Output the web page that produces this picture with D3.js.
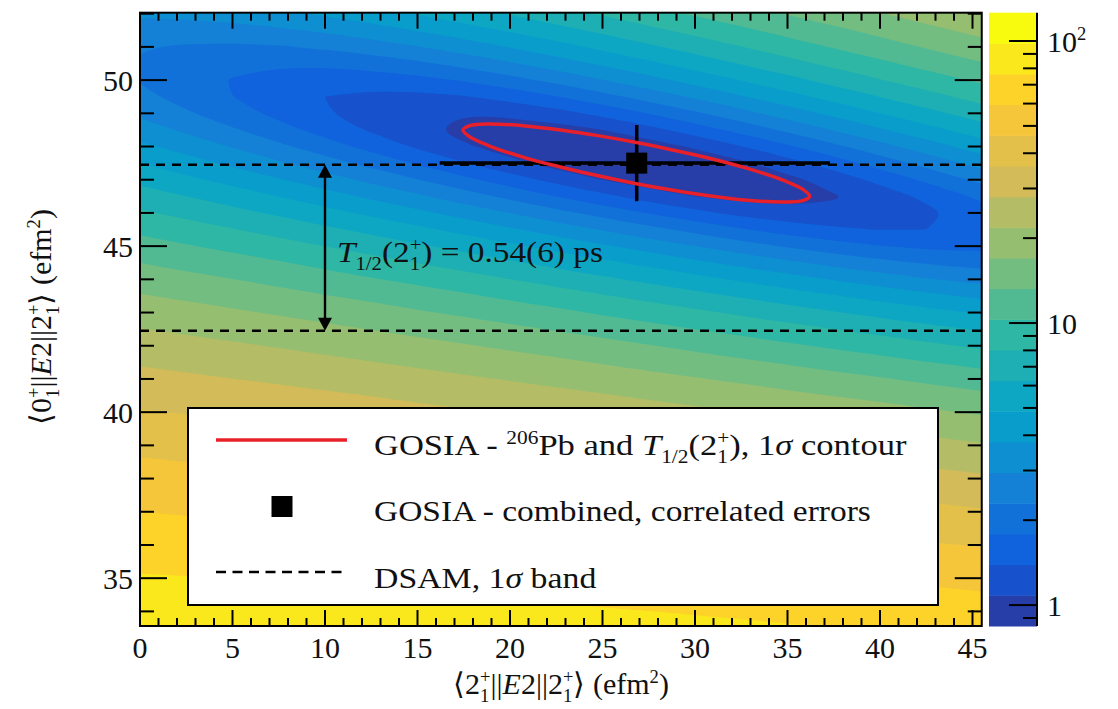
<!DOCTYPE html>
<html><head><meta charset="utf-8">
<script src="https://cdn.jsdelivr.net/npm/d3@7"></script>
<style>
body{margin:0;background:#fff;}
text{font-family:"Liberation Serif","Times New Roman",Tinos,serif;fill:#111;}
</style></head><body>
<svg id="chart" width="1118" height="709"></svg>
<script>
// ---------------- data ----------------
const xDomain = [0, 45.5];
const yDomain = [33.56, 52.03];
const zDomain = [0.843, 126];
const xTicks = [0, 5, 10, 15, 20, 25, 30, 35, 40, 45];
const yTicks = [35, 40, 45, 50];
const zMajor = [1, 10, 100];
const zMinor = [0.9, 2, 3, 4, 5, 6, 7, 8, 9, 20, 30, 40, 50, 60, 70, 80, 90];
const nLevels = 20;
const dsamBand = [42.45, 47.45];
const arrowX = 10;
const gosiaXY = [26.85, 47.5];
const gosiaXErr = [10.65, 10.45];
const gosiaYErr = [1.15, 1.15];
const ellipseX = [17.46,17.83,18.83,20.83,22.83,24.83,26.83,28.83,30.83,32.83,34.83,35.83,36.20,35.83,34.83,32.83,30.83,28.83,26.83,24.83,22.83,20.83,18.83,17.83];
const ellipseY = [48.50,48.63,48.68,48.62,48.49,48.32,48.12,47.89,47.64,47.34,46.97,46.71,46.50,46.37,46.33,46.38,46.51,46.68,46.88,47.11,47.37,47.66,48.03,48.29];
const birdStops = [0, 0.125, 0.25, 0.375, 0.5, 0.625, 0.75, 0.875, 1];
const birdR = [0.2082, 0.0592, 0.0780, 0.0232, 0.1802, 0.5301, 0.8186, 0.9956, 0.9764];
const birdG = [0.1664, 0.3599, 0.5041, 0.6419, 0.7178, 0.7492, 0.7328, 0.7862, 0.9832];
const birdB = [0.5293, 0.8684, 0.8385, 0.7914, 0.6425, 0.4662, 0.3499, 0.1968, 0.0539];

// chi-square surface: columns at gridX, rows at gridY (top row first)
const gridX = [-2.5, 0, 2.5, 5, 7.5, 10, 12.5, 15, 17.5, 20, 22.5, 25, 27.5, 30, 32.5, 35, 37.5, 40, 42.5, 45, 47.5];
const gridY = [53, 52.5, 52, 51.5, 51, 50.5, 50, 49.5, 49, 48.5, 48, 47.5, 47, 46.5, 46, 45.5, 45, 44.5, 44, 43.5, 43,
               42.5, 42, 41.5, 41, 40.5, 40, 39.5, 39, 38.5, 38, 37.5, 37, 36.5, 36, 35.5, 35, 34.5, 34, 33.5, 33];
const chiGrid = [
  [4.23,4.43,4.72,5.11,5.60,6.19,6.89,7.70,8.62,9.66,10.8,12.1,13.5,15.1,16.7,18.6,20.5,22.6,24.9,27.3,29.9],
  [3.57,3.67,3.85,4.13,4.50,4.97,5.55,6.23,7.01,7.91,8.93,10.1,11.3,12.7,14.2,15.9,17.7,19.6,21.7,23.9,26.3],
  [3.06,3.06,3.15,3.32,3.58,3.93,4.39,4.94,5.60,6.36,7.24,8.23,9.34,10.6,11.9,13.4,15.0,16.8,18.7,20.8,23.0],
  [2.71,2.62,2.61,2.68,2.83,3.07,3.41,3.84,4.37,5.00,5.74,6.60,7.56,8.65,9.86,11.2,12.6,14.2,16.0,17.8,19.9],
  [2.52,2.34,2.23,2.20,2.25,2.39,2.61,2.92,3.33,3.84,4.45,5.17,6.00,6.94,7.99,9.17,10.5,11.9,13.5,15.2,17.0],
  [2.49,2.22,2.02,1.90,1.85,1.88,1.99,2.19,2.49,2.87,3.36,3.94,4.64,5.44,6.35,7.38,8.53,9.80,11.2,12.7,14.4],
  [2.60,2.26,1.97,1.76,1.61,1.55,1.56,1.65,1.83,2.10,2.46,2.92,3.48,4.15,4.92,5.80,6.80,7.92,9.16,10.5,12.0],
  [2.88,2.45,2.09,1.79,1.56,1.39,1.31,1.30,1.37,1.52,1.77,2.11,2.54,3.07,3.71,4.45,5.31,6.27,7.36,8.57,9.90],
  [3.31,2.81,2.37,1.99,1.67,1.42,1.24,1.13,1.09,1.14,1.27,1.49,1.80,2.21,2.71,3.32,4.03,4.86,5.79,6.85,8.02],
  [3.89,3.33,2.82,2.36,1.96,1.62,1.35,1.14,1.01,0.953,0.976,1.08,1.28,1.56,1.94,2.41,2.99,3.67,4.46,5.36,6.38],
  [4.64,4.01,3.43,2.90,2.42,2.00,1.64,1.34,1.12,0.960,0.879,0.876,0.956,1.12,1.38,1.72,2.17,2.71,3.36,4.12,4.99],
  [5.53,4.85,4.20,3.60,3.05,2.56,2.12,1.73,1.41,1.16,0.981,0.874,0.844,0.895,1.03,1.26,1.57,1.99,2.50,3.11,3.83],
  [6.58,5.85,5.14,4.48,3.86,3.29,2.77,2.31,1.90,1.56,1.28,1.08,0.940,0.882,0.904,1.01,1.20,1.49,1.87,2.35,2.93],
  [7.79,7.00,6.25,5.52,4.84,4.20,3.61,3.07,2.58,2.15,1.78,1.48,1.24,1.08,0.994,0.986,1.06,1.22,1.47,1.82,2.26],
  [9.16,8.32,7.51,6.74,6.00,5.29,4.63,4.02,3.45,2.94,2.48,2.09,1.76,1.49,1.30,1.18,1.14,1.18,1.31,1.53,1.84],
  [10.7,9.80,8.95,8.12,7.32,6.56,5.84,5.15,4.51,3.92,3.38,2.90,2.48,2.12,1.82,1.60,1.45,1.38,1.39,1.48,1.66],
  [12.4,11.4,10.5,9.67,8.82,8.01,7.22,6.47,5.76,5.10,4.48,3.92,3.41,2.96,2.56,2.24,1.98,1.80,1.69,1.67,1.72],
  [14.2,13.2,12.3,11.4,10.5,9.63,8.79,7.98,7.21,6.47,5.78,5.14,4.54,4.00,3.52,3.10,2.74,2.45,2.24,2.09,2.03],
  [16.2,15.2,14.2,13.3,12.3,11.4,10.5,9.67,8.84,8.04,7.28,6.56,5.89,5.27,4.70,4.18,3.73,3.34,3.01,2.76,2.58],
  [18.3,17.3,16.3,15.3,14.4,13.4,12.5,11.6,10.7,9.80,8.98,8.19,7.44,6.74,6.09,5.48,4.94,4.45,4.02,3.66,3.38],
  [20.6,19.6,18.6,17.6,16.6,15.6,14.6,13.6,12.7,11.8,10.9,10.0,9.20,8.43,7.69,7.01,6.37,5.79,5.27,4.81,4.41],
  [23.1,22.0,21.0,20.0,18.9,17.9,16.9,15.9,14.9,13.9,13.0,12.1,11.2,10.3,9.52,8.75,8.03,7.36,6.75,6.19,5.69],
  [25.7,24.6,23.6,22.5,21.5,20.4,19.3,18.3,17.3,16.3,15.3,14.3,13.4,12.4,11.6,10.7,9.92,9.17,8.46,7.81,7.21],
  [28.4,27.4,26.3,25.2,24.2,23.1,22.0,20.9,19.9,18.8,17.8,16.7,15.7,14.8,13.8,12.9,12.0,11.2,10.4,9.67,8.98],
  [31.4,30.3,29.2,28.1,27.1,26.0,24.8,23.7,22.6,21.5,20.5,19.4,18.3,17.3,16.3,15.3,14.4,13.5,12.6,11.8,11.0],
  [34.4,33.4,32.3,31.2,30.1,29.0,27.9,26.7,25.6,24.5,23.3,22.2,21.1,20.0,19.0,17.9,16.9,16.0,15.0,14.1,13.2],
  [37.7,36.6,35.6,34.5,33.3,32.2,31.1,29.9,28.8,27.6,26.4,25.3,24.1,23.0,21.9,20.8,19.7,18.7,17.7,16.7,15.7],
  [41.0,40.0,39.0,37.9,36.7,35.6,34.5,33.3,32.1,30.9,29.7,28.5,27.4,26.2,25.0,23.9,22.7,21.6,20.5,19.5,18.5],
  [44.6,43.6,42.5,41.4,40.3,39.2,38.0,36.8,35.6,34.4,33.2,32.0,30.8,29.6,28.4,27.2,26.0,24.8,23.7,22.5,21.5],
  [48.3,47.3,46.3,45.2,44.1,42.9,41.8,40.6,39.4,38.2,36.9,35.7,34.4,33.2,31.9,30.7,29.4,28.2,27.0,25.8,24.7],
  [52.1,51.2,50.2,49.1,48.0,46.9,45.7,44.5,43.3,42.1,40.8,39.5,38.3,37.0,35.7,34.4,33.1,31.9,30.6,29.4,28.1],
  [56.2,55.2,54.2,53.2,52.1,51.0,49.8,48.6,47.4,46.2,44.9,43.6,42.3,41.0,39.7,38.4,37.1,35.7,34.4,33.1,31.9],
  [60.3,59.4,58.4,57.4,56.4,55.3,54.1,52.9,51.7,50.5,49.2,47.9,46.6,45.2,43.9,42.6,41.2,39.8,38.5,37.1,35.8],
  [64.6,63.8,62.8,61.8,60.8,59.7,58.6,57.4,56.2,55.0,53.7,52.4,51.0,49.7,48.3,47.0,45.6,44.2,42.8,41.4,40.0],
  [69.1,68.3,67.4,66.4,65.4,64.4,63.2,62.1,60.9,59.6,58.4,57.1,55.7,54.4,53.0,51.6,50.2,48.7,47.3,45.9,44.5],
  [73.7,73.0,72.1,71.2,70.2,69.2,68.1,66.9,65.8,64.5,63.3,61.9,60.6,59.2,57.8,56.4,55.0,53.5,52.1,50.6,49.1],
  [78.5,77.8,77.0,76.1,75.2,74.2,73.1,72.0,70.8,69.6,68.3,67.0,65.7,64.3,62.9,61.5,60.0,58.6,57.1,55.6,54.1],
  [83.5,82.8,82.0,81.2,80.3,79.3,78.3,77.2,76.1,74.9,73.6,72.3,71.0,69.6,68.2,66.8,65.3,63.8,62.3,60.8,59.2],
  [88.6,88.0,87.3,86.5,85.6,84.7,83.7,82.6,81.5,80.3,79.1,77.8,76.5,75.1,73.7,72.3,70.8,69.3,67.8,66.2,64.6],
  [93.8,93.3,92.6,91.9,91.1,90.2,89.3,88.2,87.2,86.0,84.8,83.5,82.2,80.9,79.4,78.0,76.5,75.0,73.5,71.9,70.3],
  [99.2,98.8,98.2,97.5,96.8,95.9,95.0,94.0,93.0,91.9,90.7,89.4,88.1,86.8,85.4,84.0,82.5,80.9,79.4,77.8,76.2]
];

// ---------------- setup ----------------
const svg = d3.select('#chart');
const P = {l: 140, r: 981.75, t: 12.7, b: 626};
const xs = d3.scaleLinear().domain(xDomain).range([P.l, P.r]);
const ys = d3.scaleLinear().domain(yDomain).range([P.b, P.t]);
const zs = d3.scaleLog().domain(zDomain).range([P.b, P.t]);
const bird = d3.scaleLinear().domain(birdStops)
  .range(birdStops.map((s, i) => d3.rgb(birdR[i] * 255, birdG[i] * 255, birdB[i] * 255).toString()))
  .interpolate(d3.interpolateRgb);
const Lmin = Math.log10(zDomain[0]), Lmax = Math.log10(zDomain[1]);
const levels = d3.range(nLevels + 1).map(k => Lmin + k * (Lmax - Lmin) / nLevels);
const bandColor = k => bird(Math.floor((k + 0.99) * 255 / nLevels) / 254);

svg.append('defs').append('clipPath').attr('id', 'clip')
  .append('rect').attr('x', P.l).attr('y', P.t).attr('width', P.r - P.l).attr('height', P.b - P.t);

// ---------------- field (filled log-z contours) ----------------
const nx = gridX.length, ny = gridY.length;
const gxScale = d3.scaleLinear().domain([0.5, nx - 0.5]).range([gridX[0], gridX[nx - 1]]);
const gyScale = d3.scaleLinear().domain([0.5, ny - 0.5]).range([gridY[0], gridY[ny - 1]]);
const vals = chiGrid.flat().map(v => Math.log10(v));
const cont = d3.contours().size([nx, ny]).thresholds(levels.slice(0, nLevels))(vals);
const smoothRing = d3.line().curve(d3.curveBasisClosed);
function ringsPath(mp) {
  let d = '';
  mp.coordinates.forEach(poly => poly.forEach(ring => {
    const pts = ring.slice(0, ring.length - 1).map(p => [xs(gxScale(p[0])), ys(gyScale(p[1]))]);
    if (pts.length > 2) d += smoothRing(pts);
  }));
  return d;
}
const field = svg.append('g').attr('clip-path', 'url(#clip)');
field.append('rect').attr('x', P.l).attr('y', P.t).attr('width', P.r - P.l).attr('height', P.b - P.t).attr('fill', bandColor(0));
cont.forEach((c, k) => field.append('path').attr('d', ringsPath(c)).attr('fill', bandColor(k)).attr('fill-rule', 'evenodd'));

// ---------------- rich text helper ----------------
function rich(parent, x, y, fs, parts, anchor) {
  const t = parent.append('text').attr('x', x).attr('y', y).attr('font-size', fs).attr('text-anchor', anchor || 'start');
  let off = 0;
  const small = fs * 0.62, subOff = fs * 0.28, supOff = -fs * 0.38;
  parts.forEach(p => {
    if (typeof p === 'string') p = {t: p};
    if (p.stack) {
      t.append('tspan').attr('font-size', small).attr('dy', subOff - off).text(p.stack[0]);
      t.append('tspan').attr('font-size', small).attr('dx', -small * 0.5).attr('dy', supOff - subOff).text(p.stack[1]);
      off = supOff; return;
    }
    const target = p.sub ? subOff : p.sup ? supOff : 0;
    const s = t.append('tspan').attr('dy', target - off).text(p.t);
    if (p.sub || p.sup) s.attr('font-size', small);
    if (p.i) s.attr('font-style', 'italic');
    off = target;
  });
  return t;
}
function stretch(t, x, target) {
  const w = t.node().getBBox().width;
  const s = target / w;
  t.attr('transform', `translate(${x},0) scale(${s},1) translate(${-x},0)`);
}

// ---------------- overlays ----------------
const ov = svg.append('g').attr('clip-path', 'url(#clip)');
dsamBand.forEach(v => ov.append('line').attr('x1', P.l).attr('x2', P.r).attr('y1', ys(v)).attr('y2', ys(v))
  .attr('stroke', '#000').attr('stroke-width', 2.6).attr('stroke-dasharray', '9,7'));

const ax = xs(arrowX), aTop = ys(dsamBand[1]), aBot = ys(dsamBand[0]);
ov.append('line').attr('x1', ax).attr('x2', ax).attr('y1', aTop + 8).attr('y2', aBot - 8).attr('stroke', '#000').attr('stroke-width', 2.4);
ov.append('path').attr('d', `M${ax},${aTop}L${ax - 7},${aTop + 13}L${ax + 7},${aTop + 13}Z`).attr('fill', '#000');
ov.append('path').attr('d', `M${ax},${aBot}L${ax - 7},${aBot - 13}L${ax + 7},${aBot - 13}Z`).attr('fill', '#000');

const gx = xs(gosiaXY[0]), gy = ys(gosiaXY[1]);
ov.append('line').attr('x1', xs(gosiaXY[0] - gosiaXErr[0])).attr('x2', xs(gosiaXY[0] + gosiaXErr[1])).attr('y1', gy).attr('y2', gy).attr('stroke', '#000').attr('stroke-width', 3.5);
ov.append('line').attr('x1', gx).attr('x2', gx).attr('y1', ys(gosiaXY[1] - gosiaYErr[0])).attr('y2', ys(gosiaXY[1] + gosiaYErr[1])).attr('stroke', '#000').attr('stroke-width', 3.5);
ov.append('rect').attr('x', gx - 10.5).attr('y', gy - 10.5).attr('width', 21).attr('height', 21).attr('fill', '#000');

const ell = d3.line().x(d => xs(d[0])).y(d => ys(d[1])).curve(d3.curveCatmullRomClosed);
ov.append('path').attr('d', ell(ellipseX.map((x, i) => [x, ellipseY[i]]))).attr('fill', 'none').attr('stroke', '#e8202a').attr('stroke-width', 3.5);

const ann = rich(svg, 337, 262, 30, [{t: 'T', i: true}, {t: '1/2', sub: true}, '(2', {stack: ['1', '+']}, ') = 0.54(6) ps']);
stretch(ann, 337, 266);

// ---------------- legend ----------------
const lg = svg.append('g');
lg.append('rect').attr('x', 188).attr('y', 408).attr('width', 750).attr('height', 197).attr('fill', '#fff').attr('stroke', '#000').attr('stroke-width', 2);
lg.append('line').attr('x1', 216).attr('x2', 347).attr('y1', 440).attr('y2', 440).attr('stroke', '#e8202a').attr('stroke-width', 3.5);
lg.append('rect').attr('x', 271.5).attr('y', 496).attr('width', 21).attr('height', 21).attr('fill', '#000');
lg.append('line').attr('x1', 216).attr('x2', 347).attr('y1', 572).attr('y2', 572).attr('stroke', '#000').attr('stroke-width', 2.6).attr('stroke-dasharray', '10,6.5');
const l1 = rich(lg, 374, 455, 29, ['GOSIA - ', {t: '206', sup: true}, 'Pb and ', {t: 'T', i: true}, {t: '1/2', sub: true}, '(2', {stack: ['1', '+']}, '), 1', {t: 'σ', i: true}, ' contour']);
stretch(l1, 374, 533);
const l2 = rich(lg, 374, 521, 29, ['GOSIA - combined, correlated errors']);
stretch(l2, 374, 497);
const l3 = rich(lg, 374, 588, 29, ['DSAM, 1', {t: 'σ', i: true}, ' band']);
stretch(l3, 374, 223);

// ---------------- frame & axes ----------------
const fr = svg.append('g').attr('stroke', '#000');
fr.append('rect').attr('x', P.l).attr('y', P.t).attr('width', P.r - P.l).attr('height', P.b - P.t).attr('fill', 'none').attr('stroke-width', 2);
d3.range(0, 45.01, 1).forEach(v => {
  const L = v % 5 === 0 ? 16 : 8;
  fr.append('line').attr('x1', xs(v)).attr('x2', xs(v)).attr('y1', P.b).attr('y2', P.b - L).attr('stroke-width', 2);
  fr.append('line').attr('x1', xs(v)).attr('x2', xs(v)).attr('y1', P.t).attr('y2', P.t + L).attr('stroke-width', 2);
});
d3.range(34, 52.01, 1).forEach(v => {
  const L = v % 5 === 0 ? 27 : 14;
  fr.append('line').attr('x1', P.l).attr('x2', P.l + L).attr('y1', ys(v)).attr('y2', ys(v)).attr('stroke-width', 2);
  fr.append('line').attr('x1', P.r).attr('x2', P.r - L).attr('y1', ys(v)).attr('y2', ys(v)).attr('stroke-width', 2);
});
xTicks.forEach(v => svg.append('text').attr('x', xs(v)).attr('y', 658).attr('font-size', 30).attr('text-anchor', 'middle').text(v));
yTicks.forEach(v => svg.append('text').attr('x', 133).attr('y', ys(v)).attr('dy', '0.35em').attr('font-size', 30).attr('text-anchor', 'end').text(v));

rich(svg, 561, 694, 30, ['⟨2', {stack: ['1', '+']}, '||', {t: 'E', i: true}, '2||2', {stack: ['1', '+']}, '⟩ (efm', {t: '2', sup: true}, ')'], 'middle');
const yt = svg.append('g').attr('transform', 'translate(51,317) rotate(-90)');
rich(yt, 0, 0, 30, ['⟨0', {stack: ['1', '+']}, '||', {t: 'E', i: true}, '2||2', {stack: ['1', '+']}, '⟩ (efm', {t: '2', sup: true}, ')'], 'middle');

// ---------------- color bar ----------------
const cb = {l: 989, r: 1037};
d3.range(nLevels).forEach(k => {
  const y1 = zs(Math.pow(10, levels[k + 1])), y0 = zs(Math.pow(10, levels[k]));
  svg.append('rect').attr('x', cb.l).attr('y', y1).attr('width', cb.r - cb.l).attr('height', y0 - y1 + 0.5).attr('fill', bandColor(k));
});
svg.append('line').attr('x1', cb.r).attr('x2', cb.r).attr('y1', P.t).attr('y2', P.b).attr('stroke', '#000').attr('stroke-width', 2);
zMajor.forEach(v => svg.append('line').attr('x1', cb.r).attr('x2', cb.r - 28).attr('y1', zs(v)).attr('y2', zs(v)).attr('stroke', '#000').attr('stroke-width', 2));
zMinor.forEach(v => svg.append('line').attr('x1', cb.r).attr('x2', cb.r - 14).attr('y1', zs(v)).attr('y2', zs(v)).attr('stroke', '#000').attr('stroke-width', 2));
rich(svg, 1047, zs(1) + 10.5, 30, ['1']);
rich(svg, 1047, zs(10) + 10.5, 30, ['10']);
rich(svg, 1047, zs(100) + 10.5, 30, ['10', {t: '2', sup: true}]);
</script>
</body></html>
